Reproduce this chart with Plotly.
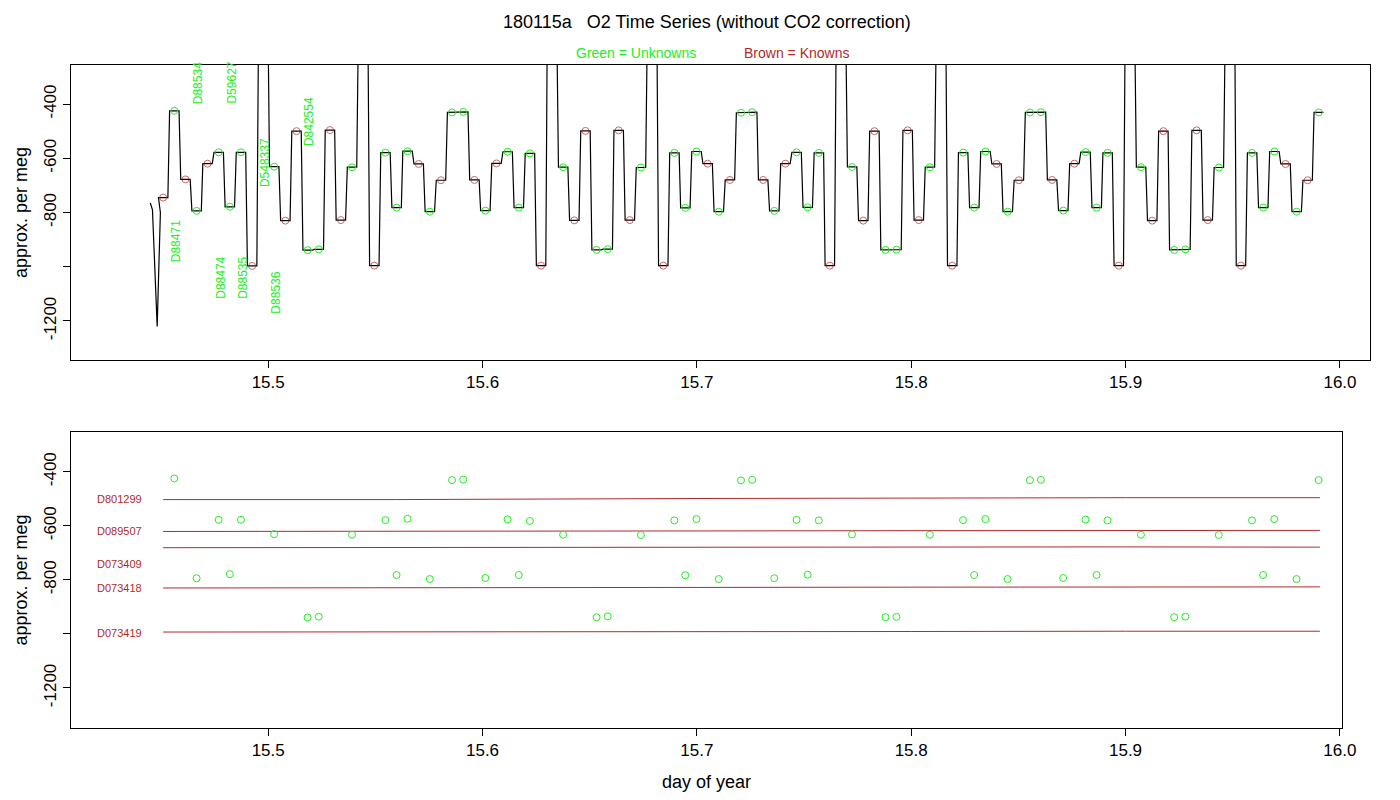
import plotly.graph_objects as go

# sample slots (day of year) and the plateau level at each slot
slot_day = [
    15.4510, 15.4562, 15.4614, 15.4666, 15.4717, 15.4769, 15.4821, 15.4873, 15.4925, 15.4977,
    15.5028, 15.5080, 15.5132, 15.5184, 15.5236, 15.5288, 15.5339, 15.5391, 15.5443, 15.5495,
    15.5547, 15.5599, 15.5650, 15.5702, 15.5754, 15.5806, 15.5858, 15.5910, 15.5962, 15.6013,
    15.6065, 15.6117, 15.6169, 15.6221, 15.6273, 15.6324, 15.6376, 15.6428, 15.6480, 15.6532,
    15.6584, 15.6635, 15.6687, 15.6739, 15.6791, 15.6843, 15.6895, 15.6946, 15.6998, 15.7050,
    15.7102, 15.7154, 15.7206, 15.7258, 15.7309, 15.7361, 15.7413, 15.7465, 15.7517, 15.7569,
    15.7620, 15.7672, 15.7724, 15.7776, 15.7828, 15.7880, 15.7931, 15.7983, 15.8035, 15.8087,
    15.8139, 15.8191, 15.8242, 15.8294, 15.8346, 15.8398, 15.8450, 15.8502, 15.8554, 15.8605,
    15.8657, 15.8709, 15.8761, 15.8813, 15.8865, 15.8916, 15.8968, 15.9020, 15.9072, 15.9124,
    15.9176, 15.9227, 15.9279, 15.9331, 15.9383, 15.9435, 15.9487, 15.9538, 15.9590, 15.9642,
    15.9694, 15.9746, 15.9798, 15.9849, 15.9901,
]
slot_value = [
    -745, -425, -678, -794, -620, -578, -779, -578, -997, -100,
    -631, -830, -500, -939, -936, -496, -828, -633, -100, -996,
    -579, -782, -574, -621, -797, -681, -431, -429, -680, -793,
    -619, -576, -782, -582, -996, -100, -633, -829, -499, -938,
    -935, -497, -828, -634, -100, -996, -580, -783, -575, -620,
    -797, -680, -432, -430, -680, -794, -620, -578, -781, -580,
    -996, -100, -632, -830, -500, -938, -937, -497, -828, -633,
    -100, -996, -579, -782, -575, -621, -797, -681, -431, -430,
    -680, -793, -620, -577, -782, -580, -996, -100, -633, -830,
    -500, -938, -936, -497, -828, -634, -100, -996, -580, -782,
    -575, -621, -797, -681, -431,
]
# U = unknown (green), K = known (brown), S = flush spike (no marker)
slot_kind = list(
    "KUKUKUUUKSUKKUUKKUSKUUUKUKUU"
    "KUKUUUKSUKKUUKKUSKUUUKUKUU"
    "KUKUUUKSUKKUUKKUSKUUUKUKUU"
    "KUKUUUKSUKKUUKKUSKUUUKUKU"
)
# start-up transient before the first sample
lead_day = [15.4450, 15.4460, 15.4482, 15.4497]
lead_value = [-765, -790, -1220, -800]

top_labels = ["D88534", "D59627", "D548337", "D842554", "D88471", "D88474", "D88535", "D88536"]
top_label_day = [15.4674, 15.4832, 15.4986, 15.5191, 15.4571, 15.4776, 15.4879, 15.5037]
top_label_value = [-322, -320, -617, -466, -905, -1040, -1040, -1095]

ref_names = ["D801299", "D089507", "D073409", "D073418", "D073419"]
ref_label_value = [-499, -620, -741, -829, -995]
ref_day = [15.451, 15.56, 15.7, 15.8, 15.9, 15.9907]
ref_lines = [
    [-503, -503, -499, -497, -496, -496],
    [-621, -621, -619, -618, -617, -617],
    [-681, -680, -679, -678, -678, -679],
    [-830, -830, -828, -827, -826, -826],
    [-993, -993, -992, -991, -990, -990],
]

GREEN = "#22ee22"
BROWN = "#b22a2a"
FONT = "Liberation Sans, Arial, sans-serif"

# the page adds an 8px body margin, so the figure is drawn 16px smaller
W, H = 1384, 784


def px(x):
    return (x - 8) / W


def py(y):
    return 1 - (y - 8) / H


# black trace: each slot is a short flat plateau joined by steep transitions
half = 0.0022
line_x, line_y = list(lead_day), list(lead_value)
for d, v in zip(slot_day, slot_value):
    line_x += [d - half, d + half]
    line_y += [v, v]

unk = [i for i, k in enumerate(slot_kind) if k == "U"]
kno = [i for i, k in enumerate(slot_kind) if k == "K"]
ux = [slot_day[i] for i in unk]
uy = [slot_value[i] for i in unk]
kx = [slot_day[i] for i in kno]
ky = [slot_value[i] for i in kno]

fig = go.Figure()
fig.add_trace(go.Scatter(x=line_x, y=line_y, mode="lines",
                         line=dict(color="black", width=1.2), xaxis="x", yaxis="y"))
fig.add_trace(go.Scatter(x=ux, y=uy, mode="markers", xaxis="x", yaxis="y",
                         marker=dict(symbol="circle-open", size=7, color=GREEN, line=dict(width=1))))
fig.add_trace(go.Scatter(x=kx, y=ky, mode="markers", xaxis="x", yaxis="y", opacity=0.7,
                         marker=dict(symbol="circle-open", size=7, color=BROWN, line=dict(width=1))))

for vals in ref_lines:
    fig.add_trace(go.Scatter(x=ref_day, y=vals, mode="lines", xaxis="x2", yaxis="y2",
                             line=dict(color=BROWN, width=1)))
fig.add_trace(go.Scatter(x=ux, y=uy, mode="markers", xaxis="x2", yaxis="y2",
                         marker=dict(symbol="circle-open", size=7, color=GREEN, line=dict(width=1))))

ann = []
for name, d, v in zip(top_labels, top_label_day, top_label_value):
    ann.append(dict(x=d, y=v, xref="x", yref="y", text=name, showarrow=False, textangle=-90,
                    font=dict(color=GREEN, size=12, family=FONT)))
for name, v in zip(ref_names, ref_label_value):
    ann.append(dict(x=15.4193, y=v, xref="x2", yref="y2", text=name, showarrow=False,
                    xanchor="left", font=dict(color=BROWN, size=11, family=FONT)))
ann.append(dict(x=px(707), y=py(22), xref="paper", yref="paper", showarrow=False, yanchor="middle",
                text="180115a   O2 Time Series (without CO2 correction)",
                font=dict(size=18, color="black", family=FONT)))
ann.append(dict(x=px(636), y=py(53), xref="paper", yref="paper", showarrow=False, yanchor="middle",
                text="Green = Unknowns", font=dict(size=14, color=GREEN, family=FONT)))
ann.append(dict(x=px(796), y=py(53), xref="paper", yref="paper", showarrow=False, yanchor="middle",
                text="Brown = Knowns", font=dict(size=14, color=BROWN, family=FONT)))

axis_common = dict(showline=True, linecolor="black", linewidth=1, mirror=True, showgrid=False,
                   zeroline=False, ticks="outside", ticklen=7, tickcolor="black", automargin=False,
                   tickfont=dict(size=17, family=FONT, color="black"))
xvals = [15.5, 15.6, 15.7, 15.8, 15.9, 16.0]
xtext = ["15.5", "15.6", "15.7", "15.8", "15.9", "16.0"]
yvals = [-400, -600, -800, -1000, -1200]
ytext = ["-400", "-600", "-800", "", "-1200"]

fig.update_layout(
    width=W, height=H, showlegend=False,
    paper_bgcolor="white", plot_bgcolor="white",
    margin=dict(l=0, r=0, t=0, b=0, pad=0),
    font=dict(family=FONT),
    annotations=ann,
    xaxis=dict(domain=[px(71), px(1370)], range=[15.408, 16.014], anchor="y",
               tickvals=xvals, ticktext=xtext, **axis_common),
    yaxis=dict(domain=[py(360), py(65)], range=[-1344, -256], anchor="x",
               tickvals=yvals, ticktext=ytext, tickangle=-90,
               title=dict(text="approx. per meg", font=dict(size=18, color="black"), standoff=8),
               **axis_common),
    xaxis2=dict(domain=[px(71), px(1342)], range=[15.408, 16.001], anchor="y2",
                tickvals=xvals, ticktext=xtext,
                title=dict(text="day of year", font=dict(size=18, color="black"), standoff=16),
                **axis_common),
    yaxis2=dict(domain=[py(728), py(432)], range=[-1348, -253], anchor="x2",
                tickvals=yvals, ticktext=ytext, tickangle=-90,
                title=dict(text="approx. per meg", font=dict(size=18, color="black"), standoff=8),
                **axis_common),
)

fig.write_html("out.html")
